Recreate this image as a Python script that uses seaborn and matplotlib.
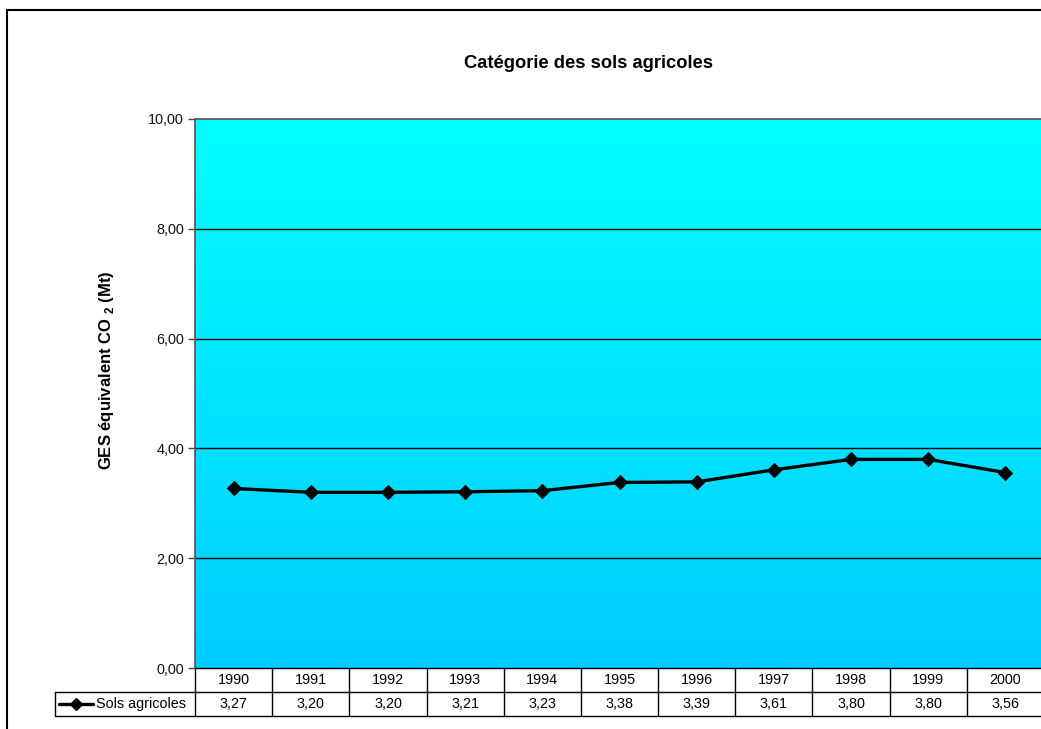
import numpy as np
import pandas as pd
import matplotlib
matplotlib.use("Agg")
import matplotlib.pyplot as plt
import seaborn as sns
from matplotlib.colors import LinearSegmentedColormap
from matplotlib.lines import Line2D
from matplotlib.transforms import blended_transform_factory

years = ["1990", "1991", "1992", "1993", "1994", "1995", "1996", "1997", "1998", "1999", "2000"]
values = [3.27, 3.20, 3.20, 3.21, 3.23, 3.38, 3.39, 3.61, 3.80, 3.80, 3.56]
series_name = "Sols agricoles"
y_ticks = [0, 2, 4, 6, 8, 10]

sns.set_theme(style="white")
plt.rcParams["font.family"] = ["Liberation Sans", "DejaVu Sans"]
plt.rcParams["mathtext.fontset"] = "custom"
plt.rcParams["mathtext.rm"] = "Liberation Sans"
plt.rcParams["mathtext.bf"] = "Liberation Sans:bold"
plt.rcParams["text.color"] = "black"
plt.rcParams["axes.labelcolor"] = "black"

W, H = 1041, 729
fig = plt.figure(figsize=(W / 100, H / 100), dpi=100)
fig.patch.set_facecolor("white")

# plot area in pixels: x 195 -> 1044, y 119 -> 668
left, right, top, bottom = 195, 1044, 119, 668
ax = fig.add_axes([left / W, 1 - bottom / H, (right - left) / W, (bottom - top) / H])

df = pd.DataFrame({"pos": np.arange(len(years)), "val": values})
n = len(years)
fs = 10.4

# background gradient, cyan at the top
cmap = LinearSegmentedColormap.from_list("bg", ["#00FFFF", "#00CCFF"])
grad = np.linspace(0, 1, 256).reshape(-1, 1)
ax.imshow(grad, cmap=cmap, aspect="auto", extent=(-0.5, n - 0.5, 0, 10), zorder=0)

for t in y_ticks[1:-1]:
    ax.axhline(t, color="black", lw=1, zorder=1)

sns.lineplot(data=df, x="pos", y="val", ax=ax, color="black", lw=2.4,
             marker="D", markersize=7, markeredgecolor="black", zorder=3)

ax.set_xlim(-0.5, n - 0.5)
ax.set_ylim(0, 10)
ax.set_xticks([])
ax.set_yticks(y_ticks)
ax.set_yticklabels([f"{v:.2f}".replace(".", ",") for v in y_ticks], fontsize=fs, color="#111111")
ax.tick_params(axis="y", length=5, width=1, color="#444444", direction="out", left=True, pad=3)
ax.set_xlabel("")
ax.set_ylabel(r"GES équivalent CO $_{\mathregular{2}}$ (Mt)", fontsize=12, fontweight="bold")
ax.yaxis.set_label_coords((116 - left) / (right - left), (bottom - 370) / (bottom - top))
for s in ["left", "top"]:
    ax.spines[s].set_color("#555555")
    ax.spines[s].set_linewidth(1.2)
ax.spines["right"].set_visible(False)
ax.spines["bottom"].set_visible(False)

# data table under the plot area
row_h = 24 / (bottom - top)
tr = blended_transform_factory(ax.transData, ax.transAxes)
trf = blended_transform_factory(fig.transFigure, ax.transAxes)
kw = dict(color="black", lw=1, clip_on=False)
ax.add_line(Line2D([-0.5, n - 0.5], [0, 0], transform=tr, **kw))
for k in (1, 2):
    fig.add_artist(Line2D([55 / W, right / W], [-k * row_h, -k * row_h], transform=trf, **kw))
for i in range(n + 1):
    ax.add_line(Line2D([i - 0.5, i - 0.5], [0, -2 * row_h], transform=tr, **kw))
fig.add_artist(Line2D([55 / W, 55 / W], [-row_h, -2 * row_h], transform=trf, **kw))
for i, (yr, v) in enumerate(zip(years, values)):
    ax.text(i, -0.5 * row_h, yr, transform=tr, ha="center", va="center", fontsize=fs)
    ax.text(i, -1.5 * row_h, f"{v:.2f}".replace(".", ","), transform=tr,
            ha="center", va="center", fontsize=fs)
fig.add_artist(Line2D([59 / W, 93 / W], [-1.5 * row_h] * 2, transform=trf, color="black", lw=2.4))
fig.add_artist(Line2D([76 / W], [-1.5 * row_h], transform=trf, color="black",
                      marker="D", markersize=6, lw=0))
fig.text(96 / W, -1.5 * row_h, series_name, transform=trf, fontsize=fs, ha="left", va="center")

# chart title and outer border
fig.text(589 / W, 1 - 64 / H, "Catégorie des sols agricoles", ha="center", va="center",
         fontsize=13.2, fontweight="bold")
fig.add_artist(Line2D([7 / W, 1], [1 - 10 / H, 1 - 10 / H], transform=fig.transFigure, color="black", lw=1.5))
fig.add_artist(Line2D([7 / W, 7 / W], [0, 1 - 10 / H], transform=fig.transFigure, color="black", lw=1.5))

fig.savefig("out.png", dpi=100)
